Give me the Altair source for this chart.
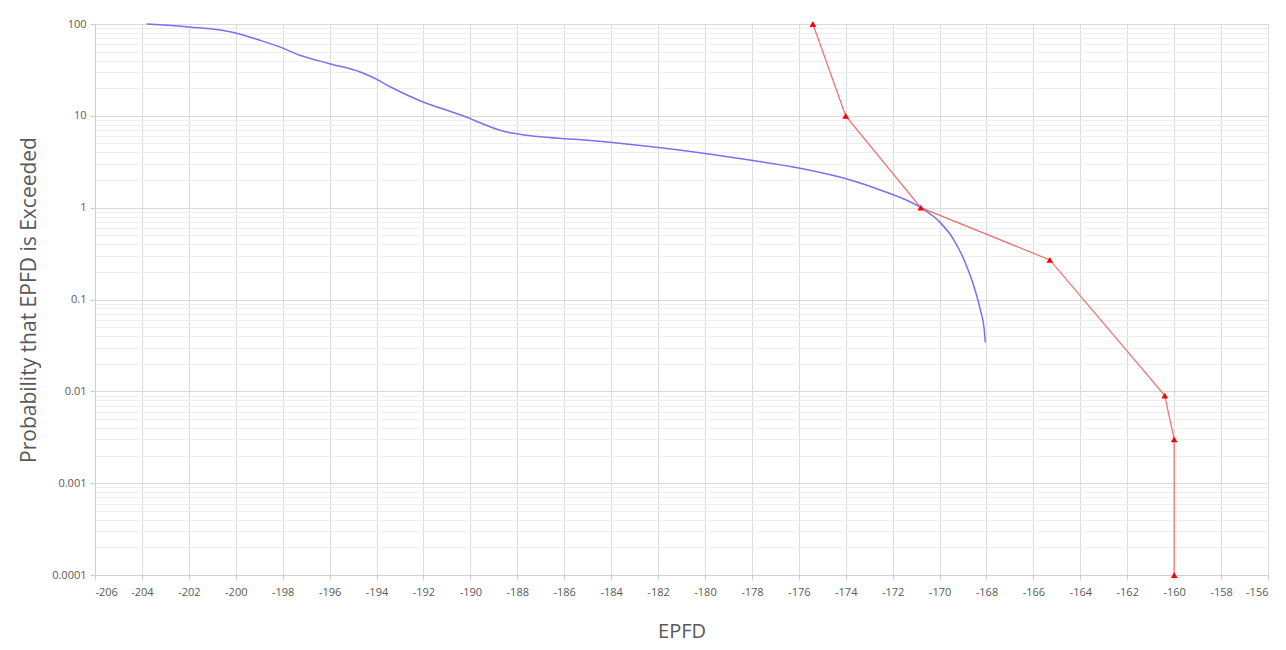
import altair as alt
import pandas as pd

# Blue curve (EPFD distribution)
blue_epfd = [-203.8, -202.0, -200.0, -199.0, -198.1, -197.3, -196.0, -194.7, -194.1, -193.4,
             -192.2, -190.4, -188.5, -187.9, -184.5, -181.1, -178.1, -176.0, -173.8, -172.5,
             -170.8, -170.0, -169.4, -168.9, -168.5, -168.25, -168.1, -168.05]
blue_prob = [100, 93, 80, 67, 56, 46, 37, 30, 25.8, 20.6,
             14.8, 10.2, 6.7, 6.3, 5.3, 4.25, 3.3, 2.7, 2.0, 1.55,
             1.0, 0.70, 0.45, 0.25, 0.13, 0.075, 0.048, 0.034]

# Red mask (with triangle markers)
red_epfd = [-175.4, -174.0, -170.8, -165.3, -160.4, -160.0, -160.0]
red_prob = [100, 10, 1, 0.27, 0.009, 0.003, 0.0001]

x_ticks = list(range(-206, -155, 2))
decades = [0.0001, 0.001, 0.01, 0.1, 1, 10, 100]
y_ticks = sorted({float(f"{m * d:.6g}") for d in decades[:-1] for m in range(1, 10)} | {100.0})

blue_df = pd.DataFrame({"epfd": blue_epfd, "prob": blue_prob, "idx": range(len(blue_epfd))})
red_df = pd.DataFrame({"epfd": red_epfd, "prob": red_prob, "idx": range(len(red_epfd))})

major_test = "abs(log(datum.value)/LN10 - round(log(datum.value)/LN10)) < 0.000001"

x_enc = alt.X("epfd:Q", title="EPFD",
              scale=alt.Scale(domain=[-206, -156], nice=False, zero=False),
              axis=alt.Axis(values=x_ticks, labelExpr="toString(datum.value)",
                            labelFontSize=11, labelColor="#595959",
                            titleFontSize=20, titleColor="#595959", titleFontWeight="normal",
                            titlePadding=24, gridColor="#dcdcdc", domainColor="#cfcfcf",
                            tickColor="#cfcfcf", tickSize=5, labelPadding=6,
                            labelFont="Open Sans", titleFont="Open Sans"))
y_enc = alt.Y("prob:Q", title="Probability that EPFD is Exceeded",
              scale=alt.Scale(type="log", domain=[0.0001, 100], nice=False),
              axis=alt.Axis(values=y_ticks, format="~g",
                            labelExpr=f"({major_test}) ? datum.label : ''",
                            labelFontSize=11, labelColor="#595959",
                            titleFontSize=21, titleColor="#595959", titleFontWeight="normal",
                            titlePadding=12, domainColor="#cfcfcf",
                            gridColor={"condition": {"test": major_test, "value": "#d9d9d9"},
                                       "value": "#eeeeee"},
                            tickColor={"condition": {"test": major_test, "value": "#cfcfcf"},
                                       "value": "transparent"},
                            tickSize=5, labelPadding=4,
                            labelFont="Open Sans", titleFont="Open Sans"))

blue = alt.Chart(blue_df).mark_line(color="#7a70f0", strokeWidth=1.5, interpolate="monotone").encode(
    x=x_enc, y=y_enc, order="idx:Q")
red_line = alt.Chart(red_df).mark_line(color="#f26d6d", strokeWidth=1.2).encode(
    x=x_enc, y=y_enc, order="idx:Q")
red_pts = alt.Chart(red_df).mark_point(shape="triangle-up", filled=True, color="#ff0000",
                                       size=45, opacity=1).encode(x=x_enc, y=y_enc)

chart = (blue + red_line + red_pts).properties(
    width=1173, height=551,
    autosize=alt.AutoSizeParams(type="none"),
    padding={"left": 87, "top": 16, "right": 10, "bottom": 68},
    background="white",
).configure_view(stroke=None)

chart.save("out.html", embed_options={"renderer": "svg", "actions": False})
